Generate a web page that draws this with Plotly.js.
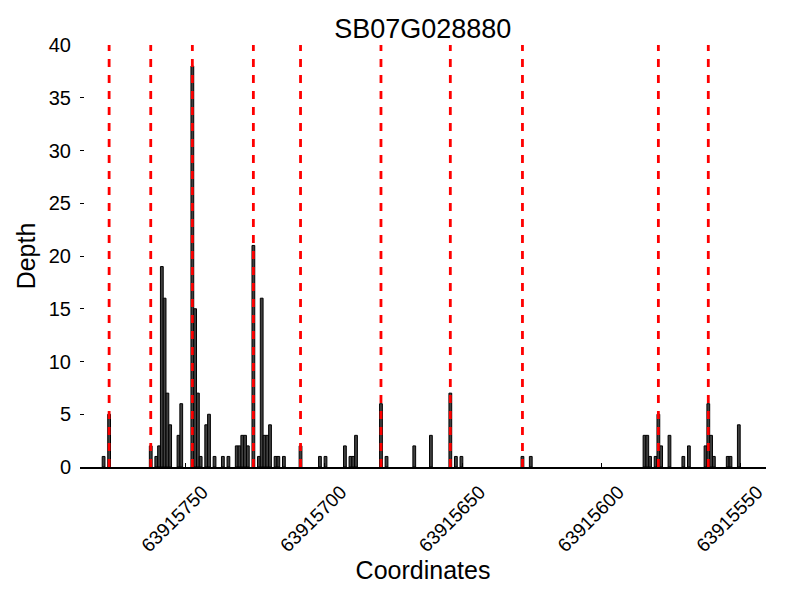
<!DOCTYPE html>
<html><head><meta charset="utf-8">
<script src="https://cdn.plot.ly/plotly-3.0.1.min.js"></script>
<style>body{margin:0;background:#fff;} #chart{width:800px;height:600px;}</style>
</head><body><div id="chart"></div>
<script>
// Bar start coordinates (each bar spans [p, p+1])
const positions = [
  63915779, 63915777, 63915762, 63915760, 63915759, 63915758, 63915757, 63915756, 63915755,
  63915752, 63915751, 63915747, 63915746, 63915745, 63915744, 63915742, 63915741, 63915739,
  63915736, 63915734, 63915731, 63915730, 63915729, 63915728, 63915727, 63915725, 63915723,
  63915722, 63915721, 63915720, 63915719, 63915717, 63915716, 63915714, 63915708, 63915701,
  63915699, 63915692, 63915690, 63915689, 63915688, 63915679, 63915677, 63915667, 63915661,
  63915654, 63915652, 63915650, 63915628, 63915625, 63915584, 63915583, 63915582, 63915580,
  63915579, 63915578, 63915575, 63915570, 63915568, 63915562, 63915561, 63915560, 63915559,
  63915554, 63915553, 63915550
];
const depths = [
  1, 5, 2, 1, 2, 19, 16, 7, 4,
  3, 6, 38, 15, 7, 1, 4, 5, 1,
  1, 1, 2, 2, 3, 3, 2, 21, 1,
  16, 3, 3, 4, 1, 1, 1, 2, 1,
  1, 2, 1, 1, 3, 6, 1, 2, 3,
  7, 1, 1, 1, 1, 3, 3, 1, 1,
  5, 2, 3, 1, 2, 2, 6, 3, 1,
  1, 1, 4
];
// Marked positions (red dashed lines through the bar at that coordinate)
const markedPositions = [
  63915777, 63915762, 63915747, 63915725, 63915708,
  63915679, 63915654, 63915628, 63915579, 63915561
];
const tickValues = [63915750, 63915700, 63915650, 63915600, 63915550];
const tickLabels = ['63915750', '63915700', '63915650', '63915600', '63915550'];
const yTickValues = [0, 5, 10, 15, 20, 25, 30, 35, 40];

const FONT = 'Liberation Sans, Arial, Helvetica, sans-serif';

const trace = {
  type: 'bar',
  x: positions,
  y: depths,
  width: positions.map(() => 1),
  offset: 0,
  marker: {color: '#404040', line: {color: '#000000', width: 1}},
  hoverinfo: 'x+y'
};

const shapes = markedPositions.map(p => ({
  type: 'line', xref: 'x', yref: 'y',
  x0: p + 0.5, x1: p + 0.5, y0: 0, y1: 40,
  line: {color: '#ff0000', width: 2.8, dash: '8px,8px'},
  layer: 'above'
}));

const layout = {
  width: 800, height: 600,
  margin: {l: 80, r: 34, t: 45, b: 133},
  paper_bgcolor: '#ffffff', plot_bgcolor: '#ffffff',
  showlegend: false,
  bargap: 0,
  font: {family: FONT, color: '#000000'},
  title: {text: 'SB07G028880', font: {family: FONT, size: 27, color: '#000'},
          x: 0.5285, xanchor: 'center', y: 0.953, yanchor: 'middle'},
  xaxis: {
    range: [63915788, 63915540.7],
    tickvals: tickValues, ticktext: tickLabels,
    tickangle: -45,
    ticks: 'inside', ticklen: 4, tickwidth: 1, tickcolor: '#000',
    tickfont: {family: FONT, size: 19, color: '#000'},
    ticklabelshift: -17,
    ticklabelstandoff: 5,
    showline: true, linecolor: '#000', linewidth: 1.5,
    showgrid: false, zeroline: false,
    title: {text: 'Coordinates', font: {family: FONT, size: 25, color: '#000'}, standoff: 4},
    automargin: true
  },
  yaxis: {
    range: [0, 40],
    tickvals: yTickValues,
    ticks: 'inside', ticklen: 4, tickwidth: 1, tickcolor: '#000',
    tickfont: {family: FONT, size: 20, color: '#000'},
    ticklabelstandoff: 8,
    showline: false, showgrid: false, zeroline: false,
    title: {text: 'Depth', font: {family: FONT, size: 25, color: '#000'}, standoff: 6},
    automargin: false
  },
  shapes: shapes
};

Plotly.newPlot('chart', [trace], layout, {displayModeBar: false, staticPlot: true});
</script>
</body></html>
